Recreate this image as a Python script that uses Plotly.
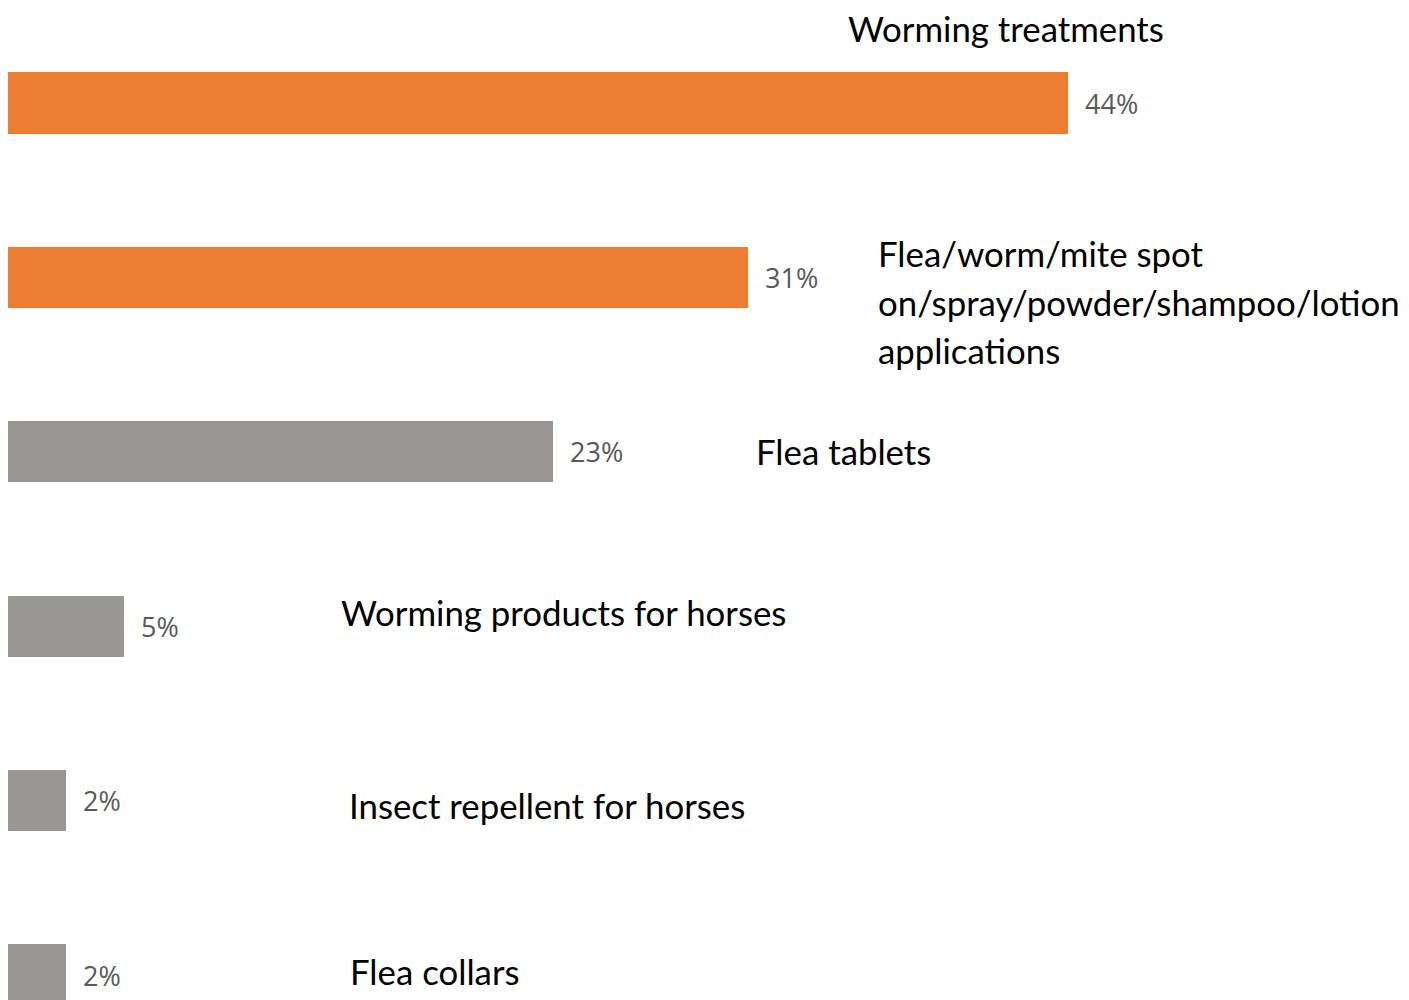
import plotly.graph_objects as go

categories = [
    "Worming treatments",
    "Flea/worm/mite spot on/spray/powder/shampoo/lotion applications",
    "Flea tablets",
    "Worming products for horses",
    "Insect repellent for horses",
    "Flea collars",
]
values = [44.0, 30.7, 22.6, 4.8, 2.4, 2.4]
value_labels = ["44%", "31%", "23%", "5%", "2%", "2%"]
bar_colors = ["#ED7D31", "#ED7D31", "#9A9694", "#9A9694", "#9A9694", "#9A9694"]

# category label lines and their pixel placement (left x, center y) within the figure
label_lines = [
    ["Worming treatments"],
    ["Flea/worm/mite spot", "on/spray/powder/shampoo/lotion", "applications"],
    ["Flea tablets"],
    ["Worming products for horses"],
    ["Insect repellent for horses"],
    ["Flea collars"],
]
label_pos = [(838, 20), (868, 294), (746, 443), (331, 604), (339, 797), (340, 963)]
line_gap = 48.5

W, H = 1409, 1000
px_per_unit = 24.1
slot = 174.4
first_center = 95

idx = list(range(len(categories)))

fig = go.Figure()
fig.add_trace(go.Bar(
    y=idx, x=values, orientation="h",
    marker=dict(color=bar_colors, line=dict(width=0)),
    width=0.35, hoverinfo="skip",
))

ann = []
for i, (v, t) in enumerate(zip(values, value_labels)):
    ann.append(dict(x=v, y=i, xref="x", yref="y", text=t, showarrow=False,
                    xanchor="left", yanchor="middle", xshift=15,
                    font=dict(family="Open Sans", size=27, color="#595959")))

for lines, (lx, cy) in zip(label_lines, label_pos):
    n = len(lines)
    for k, ln in enumerate(lines):
        py = cy + (k - (n - 1) / 2) * line_gap
        ann.append(dict(x=lx / W, y=1 - py / H, xref="paper", yref="paper",
                        text=ln, showarrow=False, xanchor="left", yanchor="middle",
                        font=dict(family="Lato", size=34.8, color="#000000")))

fig.update_layout(
    width=W, height=H,
    margin=dict(l=0, r=0, t=0, b=0),
    paper_bgcolor="white", plot_bgcolor="white",
    showlegend=False,
    xaxis=dict(range=[0, W / px_per_unit], visible=False, fixedrange=True),
    yaxis=dict(range=[(H - first_center) / slot, -first_center / slot], visible=False, fixedrange=True),
    annotations=ann,
    bargap=0,
)

fig.write_html("out.html", config={"displayModeBar": False})
